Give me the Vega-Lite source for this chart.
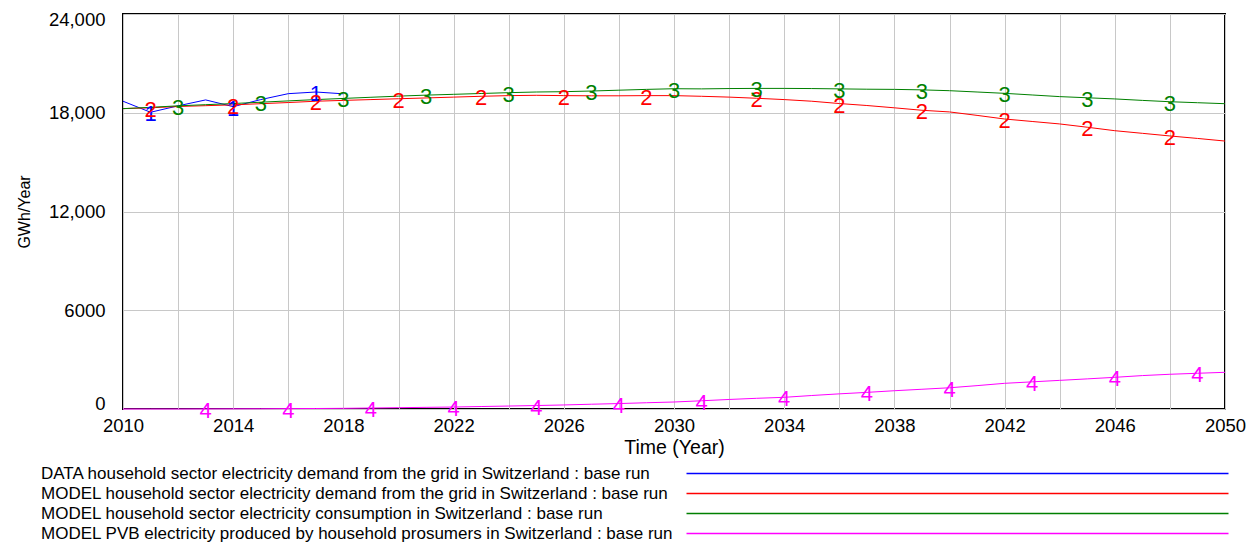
{
  "$schema": "https://vega.github.io/schema/vega-lite/v6.json",
  "width": 1102,
  "height": 395,
  "autosize": {"type": "none"},
  "padding": {"left": 123, "top": 14, "right": 31, "bottom": 133},
  "background": "white",
  "config": {
    "font": "Liberation Sans",
    "view": {"stroke": "#000", "strokeWidth": 2},
    "axis": {
      "labelFont": "Liberation Sans",
      "titleFont": "Liberation Sans",
      "labelColor": "#000",
      "titleColor": "#000",
      "titleFontWeight": "normal",
      "gridColor": "#c8c8c8",
      "gridWidth": 1,
      "ticks": false,
      "domain": false
    }
  },
  "data": {
    "values": [
      {"year": 2010, "1": 18700, "2": 18250, "3": 18250, "4": 0},
      {"year": 2011, "1": 18030, "2": 18300, "3": 18330, "4": 0},
      {"year": 2012, "1": 18420, "2": 18380, "3": 18420, "4": 0},
      {"year": 2013, "1": 18780, "2": 18430, "3": 18490, "4": 5},
      {"year": 2014, "1": 18370, "2": 18480, "3": 18560, "4": 10},
      {"year": 2015, "1": 18800, "2": 18550, "3": 18640, "4": 15},
      {"year": 2016, "1": 19160, "2": 18620, "3": 18720, "4": 25},
      {"year": 2017, "1": 19260, "2": 18700, "3": 18800, "4": 30},
      {"year": 2018, "1": 19150, "2": 18750, "3": 18870, "4": 40},
      {"year": 2019, "1": null, "2": 18800, "3": 18940, "4": 60},
      {"year": 2020, "1": null, "2": 18850, "3": 19010, "4": 80},
      {"year": 2021, "1": null, "2": 18900, "3": 19070, "4": 100},
      {"year": 2022, "1": null, "2": 18950, "3": 19120, "4": 120},
      {"year": 2023, "1": null, "2": 19000, "3": 19170, "4": 150},
      {"year": 2024, "1": null, "2": 19040, "3": 19220, "4": 180},
      {"year": 2025, "1": null, "2": 19060, "3": 19260, "4": 210},
      {"year": 2026, "1": null, "2": 19040, "3": 19280, "4": 245},
      {"year": 2027, "1": null, "2": 19030, "3": 19320, "4": 290},
      {"year": 2028, "1": null, "2": 19030, "3": 19370, "4": 330},
      {"year": 2029, "1": null, "2": 19040, "3": 19420, "4": 380},
      {"year": 2030, "1": null, "2": 19040, "3": 19460, "4": 425},
      {"year": 2031, "1": null, "2": 19000, "3": 19450, "4": 500},
      {"year": 2032, "1": null, "2": 18950, "3": 19470, "4": 580},
      {"year": 2033, "1": null, "2": 18880, "3": 19480, "4": 650},
      {"year": 2034, "1": null, "2": 18800, "3": 19480, "4": 710},
      {"year": 2035, "1": null, "2": 18700, "3": 19470, "4": 820},
      {"year": 2036, "1": null, "2": 18560, "3": 19450, "4": 920},
      {"year": 2037, "1": null, "2": 18440, "3": 19430, "4": 1010},
      {"year": 2038, "1": null, "2": 18300, "3": 19420, "4": 1110},
      {"year": 2039, "1": null, "2": 18150, "3": 19390, "4": 1200},
      {"year": 2040, "1": null, "2": 18050, "3": 19340, "4": 1290},
      {"year": 2041, "1": null, "2": 17840, "3": 19260, "4": 1420},
      {"year": 2042, "1": null, "2": 17620, "3": 19180, "4": 1560},
      {"year": 2043, "1": null, "2": 17470, "3": 19080, "4": 1650},
      {"year": 2044, "1": null, "2": 17320, "3": 18980, "4": 1740},
      {"year": 2045, "1": null, "2": 17120, "3": 18910, "4": 1830},
      {"year": 2046, "1": null, "2": 16910, "3": 18840, "4": 1925},
      {"year": 2047, "1": null, "2": 16750, "3": 18750, "4": 2030},
      {"year": 2048, "1": null, "2": 16590, "3": 18670, "4": 2110},
      {"year": 2049, "1": null, "2": 16440, "3": 18610, "4": 2170},
      {"year": 2050, "1": null, "2": 16280, "3": 18550, "4": 2230}
    ]
  },
  "transform": [
    {"fold": ["1", "2", "3", "4"], "as": ["series", "value"]},
    {"filter": "isValid(datum.value)"}
  ],
  "encoding": {
    "x": {
      "field": "year",
      "type": "quantitative",
      "scale": {"domain": [2010, 2050], "nice": false, "zero": false},
      "axis": {
        "values": [2010, 2012, 2014, 2016, 2018, 2020, 2022, 2024, 2026, 2028, 2030, 2032, 2034, 2036, 2038, 2040, 2042, 2044, 2046, 2048, 2050],
        "format": "d",
        "labelExpr": "(datum.value - 2010) % 4 == 0 ? datum.label : ''",
        "labelFontSize": 18.5,
        "labelPadding": 7,
        "labelFlush": false,
        "labelOverlap": false,
        "title": "Time (Year)",
        "titleFontSize": 19.5,
        "titlePadding": 4,
        "grid": true
      }
    },
    "y": {
      "field": "value",
      "type": "quantitative",
      "scale": {"domain": [0, 24000], "nice": false},
      "axis": {
        "values": [0, 6000, 12000, 18000, 24000],
        "labelExpr": "datum.value >= 10000 ? format(datum.value, ',') : format(datum.value, 'd')",
        "labelFontSize": 18.5,
        "labelPadding": 18,
        "labelFlush": true,
        "labelFlushOffset": 4,
        "title": "GWh/Year",
        "titleFontSize": 16,
        "titlePadding": 16,
        "grid": true
      }
    }
  },
  "layer": [
    {
      "mark": {"type": "line", "strokeWidth": 1},
      "encoding": {
        "color": {
          "field": "series",
          "type": "nominal",
          "scale": {"domain": ["1", "2", "3", "4"], "range": ["#0000ff", "#ff0000", "#008000", "#ff00ff"]},
          "legend": {
            "orient": "none",
            "legendX": 555,
            "legendY": 451,
            "direction": "vertical",
            "title": null,
            "padding": 0,
            "symbolType": "M0,0L108.4,0",
            "symbolSize": 100,
            "symbolStrokeWidth": 1.3,
            "symbolOffset": 0,
            "labelOffset": -654,
            "labelFontSize": 17,
            "labelFont": "Liberation Sans",
            "labelColor": "#000",
            "labelLimit": 900,
            "rowPadding": 2,
            "labelExpr": "datum.value == '1' ? 'DATA household sector electricity demand from the grid in Switzerland : base run' : datum.value == '2' ? 'MODEL household sector electricity demand from the grid in Switzerland : base run' : datum.value == '3' ? 'MODEL household sector electricity consumption in Switzerland : base run' : 'MODEL PVB electricity produced by household prosumers in Switzerland : base run'"
          }
        }
      }
    },
    {
      "transform": [
        {"filter": "(datum.series == '1' && indexof([2011, 2014, 2017], datum.year) >= 0) || (datum.series == '2' && indexof([2011, 2014, 2017, 2020, 2023, 2026, 2029, 2033, 2036, 2039, 2042, 2045, 2048], datum.year) >= 0) || (datum.series == '3' && datum.year >= 2012 && (datum.year - 2012) % 3 == 0) || (datum.series == '4' && datum.year >= 2013 && (datum.year - 2013) % 3 == 0)"}
      ],
      "mark": {"type": "text", "fontSize": 22, "font": "Liberation Sans", "baseline": "middle", "align": "center", "dy": 2},
      "encoding": {
        "text": {"field": "series"},
        "fill": {
          "field": "series",
          "type": "nominal",
          "scale": {"domain": ["1", "2", "3", "4"], "range": ["#0000ff", "#ff0000", "#008000", "#ff00ff"]},
          "legend": null
        }
      }
    }
  ]
}
